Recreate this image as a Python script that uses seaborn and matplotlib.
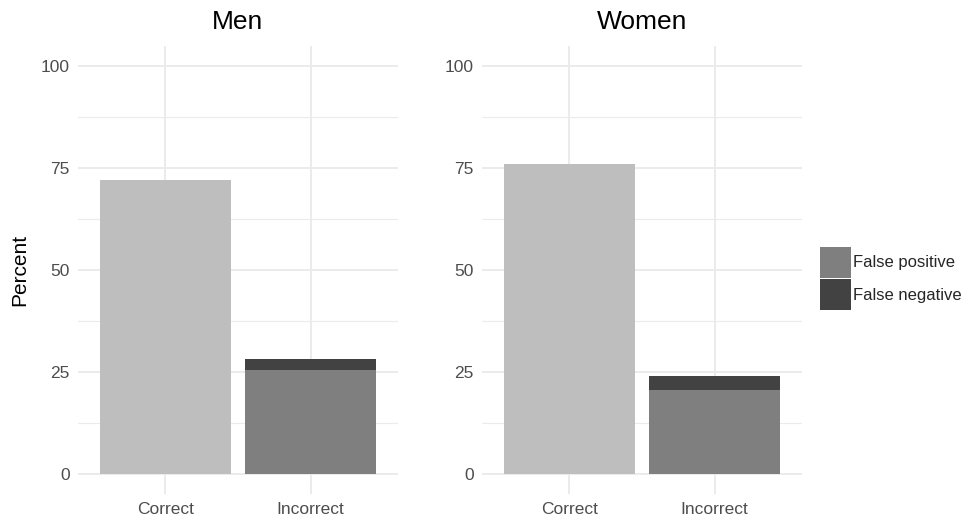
import pandas as pd
import numpy as np
import seaborn as sns
import matplotlib.pyplot as plt
from matplotlib.patches import Patch

# Data
panels = ['Men', 'Women']
categories = ['Correct', 'Incorrect']
correct_pct = [72.0, 76.0]
false_positive = [25.5, 20.5]
false_negative = [2.5, 3.5]

col_correct = '#BEBEBE'
col_fp = '#7F7F7F'
col_fn = '#424242'
grid_col = '#EBEBEB'

sns.set_theme(style='white')
plt.rcParams['font.family'] = ['Liberation Sans', 'DejaVu Sans']

fig = plt.figure(figsize=(9.64, 5.2), dpi=100)
ax_lefts = [78 / 964, 482 / 964]
axes = [fig.add_axes([l, 26 / 520, 320 / 964, 448.4 / 520]) for l in ax_lefts]

for i, ax in enumerate(axes):
    df = pd.DataFrame({
        'category': categories,
        'total': [correct_pct[i], false_positive[i] + false_negative[i]],
        'fp': [0.0, false_positive[i]],
    })
    # grid lines first
    for y in np.arange(0, 101, 25):
        ax.axhline(y, color=grid_col, lw=1.4, zorder=0)
    for y in np.arange(12.5, 100, 25):
        ax.axhline(y, color=grid_col, lw=0.8, zorder=0)
    for x in range(len(categories)):
        ax.axvline(x, color=grid_col, lw=1.4, zorder=0)

    sns.barplot(data=df, x='category', y='total', order=categories,
                palette=[col_correct, col_fn], hue='category', legend=False,
                width=0.9, saturation=1, linewidth=0, ax=ax, zorder=2)
    sns.barplot(data=df[df['category'] == 'Incorrect'], x='category', y='fp',
                order=categories, color=col_fp, width=0.9, saturation=1,
                linewidth=0, ax=ax, zorder=3)

    ax.set_xlim(-0.6, 1.6)
    ax.set_ylim(-5, 105)
    ax.set_yticks([0, 25, 50, 75, 100])
    ax.set_xlabel('')
    ax.set_ylabel('Percent' if i == 0 else '', fontsize=15, color='black', labelpad=8)
    ax.set_title(panels[i], fontsize=19, color='black', pad=12)
    ax.tick_params(axis='both', length=0, labelsize=12.5, labelcolor='#4D4D4D', pad=6)
    for s in ax.spines.values():
        s.set_visible(False)

handles = [Patch(facecolor=col_fp, edgecolor='none', label='False positive'),
           Patch(facecolor=col_fn, edgecolor='none', label='False negative')]
fig.legend(handles=handles, loc='upper left', bbox_to_anchor=(820 / 964, 1 - 247 / 520),
           frameon=False, fontsize=12, handlelength=1.85, handleheight=2.45,
           handletextpad=0.15, labelspacing=0.1, borderaxespad=0, borderpad=0)

fig.savefig('out.png', dpi=100)
